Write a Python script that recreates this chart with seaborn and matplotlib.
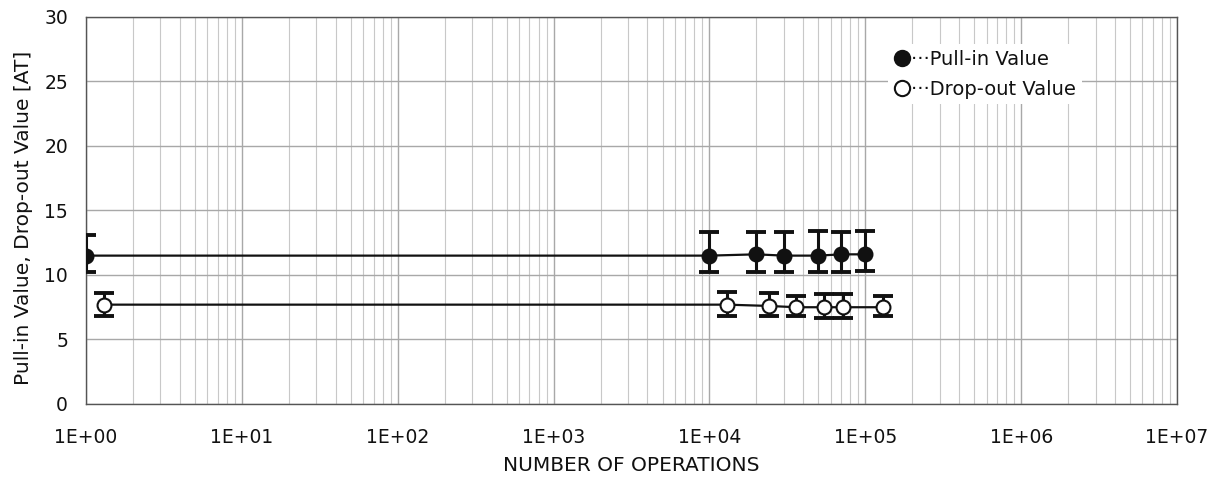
import matplotlib
matplotlib.use("Agg")
import matplotlib.pyplot as plt
import seaborn as sns
import pandas as pd
import numpy as np
from matplotlib.ticker import LogLocator, FixedLocator

# Data
pull_x = [1, 1e4, 2e4, 3e4, 5e4, 7e4, 1e5]
pull_y = [11.5, 11.5, 11.6, 11.5, 11.5, 11.6, 11.6]
pull_lo = [10.2, 10.2, 10.2, 10.2, 10.2, 10.2, 10.3]
pull_hi = [13.1, 13.3, 13.3, 13.3, 13.4, 13.3, 13.4]

drop_x = [1.3, 1.3e4, 2.4e4, 3.6e4, 5.4e4, 7.2e4, 1.3e5]
drop_y = [7.7, 7.7, 7.6, 7.5, 7.5, 7.5, 7.5]
drop_lo = [6.8, 6.8, 6.8, 6.8, 6.7, 6.7, 6.8]
drop_hi = [8.6, 8.7, 8.6, 8.4, 8.5, 8.5, 8.4]

xtick_labels = ["1E+00", "1E+01", "1E+02", "1E+03", "1E+04", "1E+05", "1E+06", "1E+07"]
ytick_vals = [0, 5, 10, 15, 20, 25, 30]

sns.set_theme(style="white")
plt.rcParams['font.family'] = ['DejaVu Sans']

fig = plt.figure(figsize=(12.19, 4.79), dpi=100)
ax = fig.add_axes([0.0706, 0.1566, 0.895, 0.808])

df_pull = pd.DataFrame({"x": pull_x, "y": pull_y})
df_drop = pd.DataFrame({"x": drop_x, "y": drop_y})

for xs, ys, lo, hi in [(pull_x, pull_y, pull_lo, pull_hi), (drop_x, drop_y, drop_lo, drop_hi)]:
    yerr = [np.array(ys) - np.array(lo), np.array(hi) - np.array(ys)]
    ax.errorbar(xs, ys, yerr=yerr, fmt="none", ecolor="#111111", elinewidth=2.2,
                capsize=7, capthick=2.8, zorder=3)

sns.lineplot(data=df_pull, x="x", y="y", ax=ax, color="#111111", lw=1.6,
             marker="o", markersize=10, markerfacecolor="#111111",
             markeredgecolor="#111111", markeredgewidth=1.5, zorder=4,
             label="···Pull-in Value")
sns.lineplot(data=df_drop, x="x", y="y", ax=ax, color="#111111", lw=1.6,
             marker="o", markersize=10, markerfacecolor="white",
             markeredgecolor="#111111", markeredgewidth=1.5, zorder=4,
             label="···Drop-out Value")

ax.set_xscale("log")
ax.set_xlim(1, 1e7)
ax.set_ylim(0, 30)
ax.xaxis.set_major_locator(FixedLocator([10.0**i for i in range(8)]))
ax.set_xticklabels(xtick_labels)
ax.xaxis.set_minor_locator(LogLocator(base=10, subs=np.arange(2, 10), numticks=100))
ax.set_yticks(ytick_vals)
ax.tick_params(axis="both", which="major", labelsize=13.5, length=0, colors="#111111")
ax.tick_params(axis="x", which="major", pad=17)
ax.tick_params(axis="y", which="major", pad=13)
ax.tick_params(axis="x", which="minor", length=0)

ax.grid(True, which="major", axis="both", color="#a8a8a8", lw=1.0)
ax.grid(True, which="minor", axis="x", color="#c8c8c8", lw=0.8)

for s in ax.spines.values():
    s.set_color("#555555")
    s.set_linewidth(1.0)

ax.set_xlabel("NUMBER OF OPERATIONS", fontsize=14.5, labelpad=7, color="#111111")
ax.set_ylabel("Pull-in Value, Drop-out Value [AT]", fontsize=14.5, labelpad=8,
              color="#111111", y=0.48)

leg = ax.legend(loc="upper left", bbox_to_anchor=(0.7355, 0.93), frameon=True,
                fontsize=14, handlelength=0.8, handletextpad=0.05,
                labelspacing=0.55, borderaxespad=0, borderpad=0.3,
                facecolor="white", edgecolor="none", framealpha=1.0)
for h in leg.legend_handles:
    h.set_linestyle("none")
    h.set_markersize(11)
for t in leg.get_texts():
    t.set_color("#111111")

fig.savefig("out.png", dpi=100)
